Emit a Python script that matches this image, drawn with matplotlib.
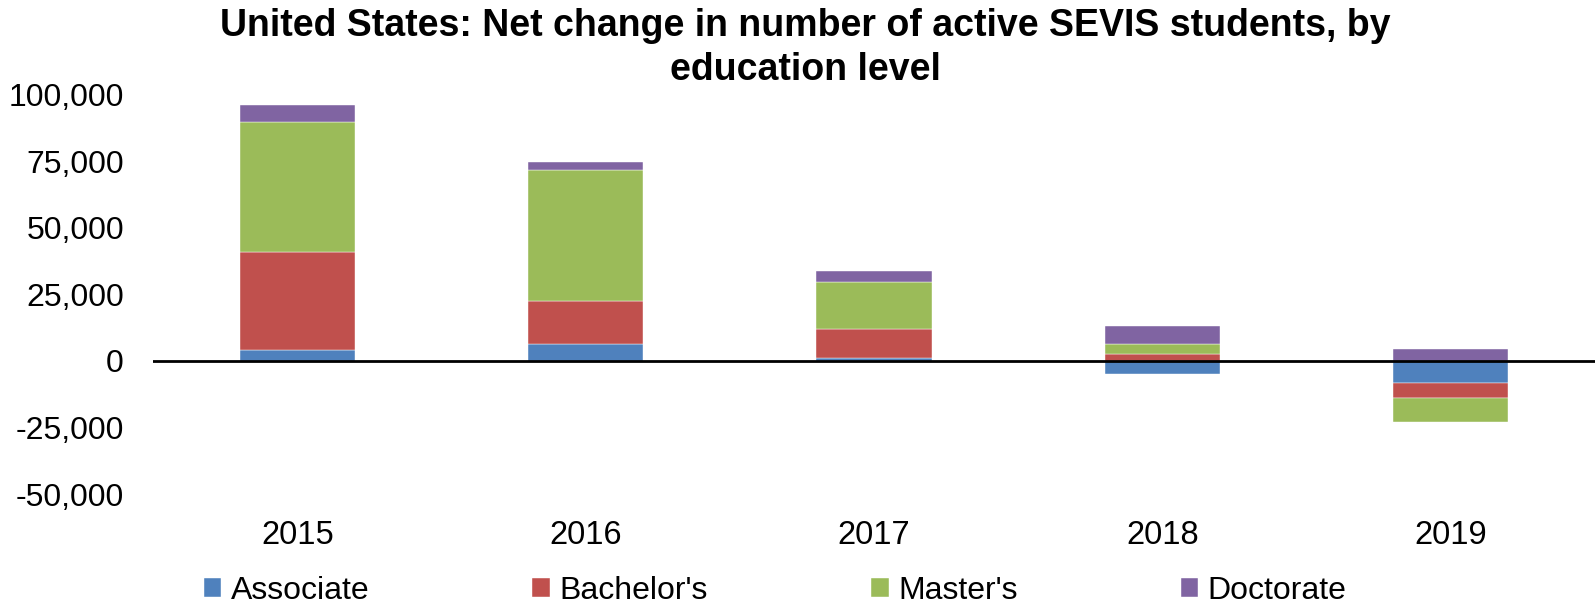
import numpy as np
import matplotlib.pyplot as plt
from matplotlib.ticker import FuncFormatter

plt.rcParams['font.family'] = ['Liberation Sans', 'DejaVu Sans']

# data
years = ["2015", "2016", "2017", "2018", "2019"]
associate = [4100, 6150, 1200, -4900, -8300]
bachelors = [36800, 16400, 10900, 2400, -5600]
masters = [48800, 49100, 17400, 4100, -9000]
doctorate = [6200, 2900, 4300, 6500, 4300]

series = [("Associate", associate, "#4F81BD"),
          ("Bachelor's", bachelors, "#C0504D"),
          ("Master's", masters, "#9BBB59"),
          ("Doctorate", doctorate, "#8064A2")]

fig = plt.figure(figsize=(15.95, 6.08), dpi=100)
ax = fig.add_axes([0.096, 0.1875, 0.904, 0.657])

x = np.arange(len(years))
pos_base = np.zeros(len(years))
neg_base = np.zeros(len(years))
for name, vals, color in series:
    vals = np.array(vals, dtype=float)
    base = np.where(vals >= 0, pos_base, neg_base)
    ax.bar(x, vals, bottom=base, width=0.4, color=color, label=name,
           edgecolor="white", linewidth=0.3)
    pos_base += np.where(vals >= 0, vals, 0)
    neg_base += np.where(vals < 0, vals, 0)

ax.axhline(0, color="black", linewidth=2)

ax.set_xlim(-0.5, len(years) - 0.5)
ax.set_ylim(-50000, 100000)
ax.set_yticks(np.arange(-50000, 100001, 25000))
ax.yaxis.set_major_formatter(FuncFormatter(lambda v, p: f"{int(v):,}"))
ax.set_xticks(x)
ax.set_xticklabels(years)
ax.tick_params(axis="y", length=0, pad=21, labelsize=23)
ax.tick_params(axis="x", length=0, pad=19, labelsize=23.5)
for s in ax.spines.values():
    s.set_visible(False)

fig.text(0.505, 1 - 48 / 608,
         "United States: Net change in number of active SEVIS students, by\neducation level",
         ha="center", va="center", fontsize=27, fontweight="bold", linespacing=1.25)

fig.legend(loc="center", bbox_to_anchor=(0.486, 1 - 591 / 608), ncol=4,
           frameon=False, fontsize=23, handlelength=0.55, handleheight=0.55,
           handletextpad=0.3, columnspacing=5.1, borderpad=0.1)

fig.savefig("out.png", dpi=100)
